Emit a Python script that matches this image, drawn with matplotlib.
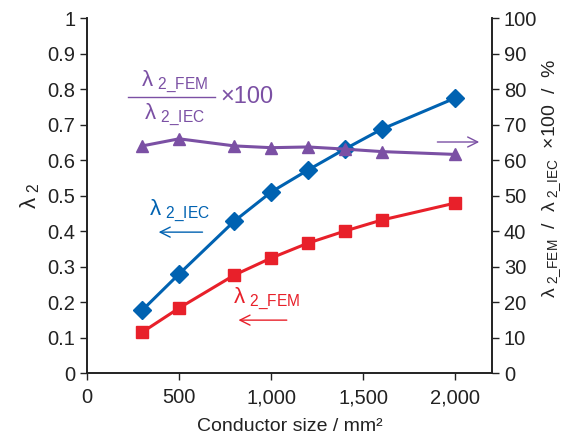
import numpy as np
import matplotlib.pyplot as plt

plt.rcParams['font.family'] = ['Liberation Sans', 'DejaVu Sans']
plt.rcParams['mathtext.fontset'] = 'custom'
plt.rcParams['mathtext.rm'] = 'Liberation Sans'

# data
size = [300, 500, 800, 1000, 1200, 1400, 1600, 2000]
lam_iec = [0.177, 0.279, 0.428, 0.510, 0.572, 0.631, 0.687, 0.775]
lam_fem = [0.115, 0.183, 0.276, 0.324, 0.366, 0.400, 0.431, 0.479]
ratio = [64.0, 66.0, 64.0, 63.5, 63.7, 63.1, 62.4, 61.6]

blue = '#0062b1'
red = '#e8202a'
purple = '#7b50a4'

FEM = r'λ$_{\mathregular{\ 2\_FEM}}$'
IEC = r'λ$_{\mathregular{\ 2\_IEC}}$'

fig = plt.figure(figsize=(5.65, 4.43), dpi=100)
ax = fig.add_subplot(111)
fig.subplots_adjust(left=0.154, right=0.871, top=0.959, bottom=0.158)
ax2 = ax.twinx()

ax.plot(size, lam_iec, color=blue, lw=2.2, marker='D', ms=9, zorder=3)
ax.plot(size, lam_fem, color=red, lw=2.2, marker='s', ms=8, zorder=3)
ax2.plot(size, ratio, color=purple, lw=2.2, marker='^', ms=9)

ax.set_xlim(0, 2200)
ax.set_ylim(0, 1)
ax2.set_ylim(0, 100)
ax.set_xticks([0, 500, 1000, 1500, 2000])
ax.set_xticklabels(['0', '500', '1,000', '1,500', '2,000'])
ax.set_yticks(np.arange(0, 1.01, 0.1))
ax.set_yticklabels(['0', '0.1', '0.2', '0.3', '0.4', '0.5', '0.6', '0.7', '0.8', '0.9', '1'])
ax2.set_yticks(np.arange(0, 101, 10))

for a in (ax, ax2):
    a.tick_params(labelsize=14.5, direction='out', length=5, width=1, colors='#222222')
    for s in a.spines.values():
        s.set_linewidth(1.2)
        s.set_color('#222222')
ax.spines['top'].set_visible(False)
ax2.spines['top'].set_visible(False)
ax.tick_params(axis='x', pad=6)

ax.set_xlabel('Conductor size / mm²', fontsize=14, color='#222222', labelpad=8)
ax.set_ylabel(r'λ$_{\mathregular{\ 2}}$', fontsize=16, color='#222222', labelpad=4)
ax2.set_ylabel(FEM + '  /  ' + IEC + '  ×100  /  %', fontsize=14, color='#222222')
ax2.yaxis.set_label_coords(1.118, 0.55)

# purple fraction label
tr = ax.transAxes
ax.text(0.217, 0.82, FEM, transform=tr, color=purple, fontsize=16, ha='center', va='center')
ax.plot([0.101, 0.316], [0.777, 0.777], transform=tr, color=purple, lw=1, clip_on=False)
ax.text(0.217, 0.727, IEC, transform=tr, color=purple, fontsize=16, ha='center', va='center')
ax.text(0.33, 0.777, '×100', transform=tr, color=purple, fontsize=17, ha='left', va='center')
ax.annotate('', xy=(0.975, 0.651), xytext=(0.858, 0.651), xycoords=tr,
            arrowprops=dict(arrowstyle='->', color=purple, lw=1, mutation_scale=18))

# blue label
ax.text(0.152, 0.458, IEC, transform=tr, color=blue, fontsize=16, ha='left', va='center')
ax.annotate('', xy=(0.17, 0.397), xytext=(0.292, 0.397), xycoords=tr,
            arrowprops=dict(arrowstyle='->', color=blue, lw=1, mutation_scale=18))

# red label
ax.text(0.36, 0.21, FEM, transform=tr, color=red, fontsize=16, ha='left', va='center')
ax.annotate('', xy=(0.367, 0.149), xytext=(0.5, 0.149), xycoords=tr,
            arrowprops=dict(arrowstyle='->', color=red, lw=1, mutation_scale=18))

fig.savefig('out.png', dpi=100)
plt.close(fig)
